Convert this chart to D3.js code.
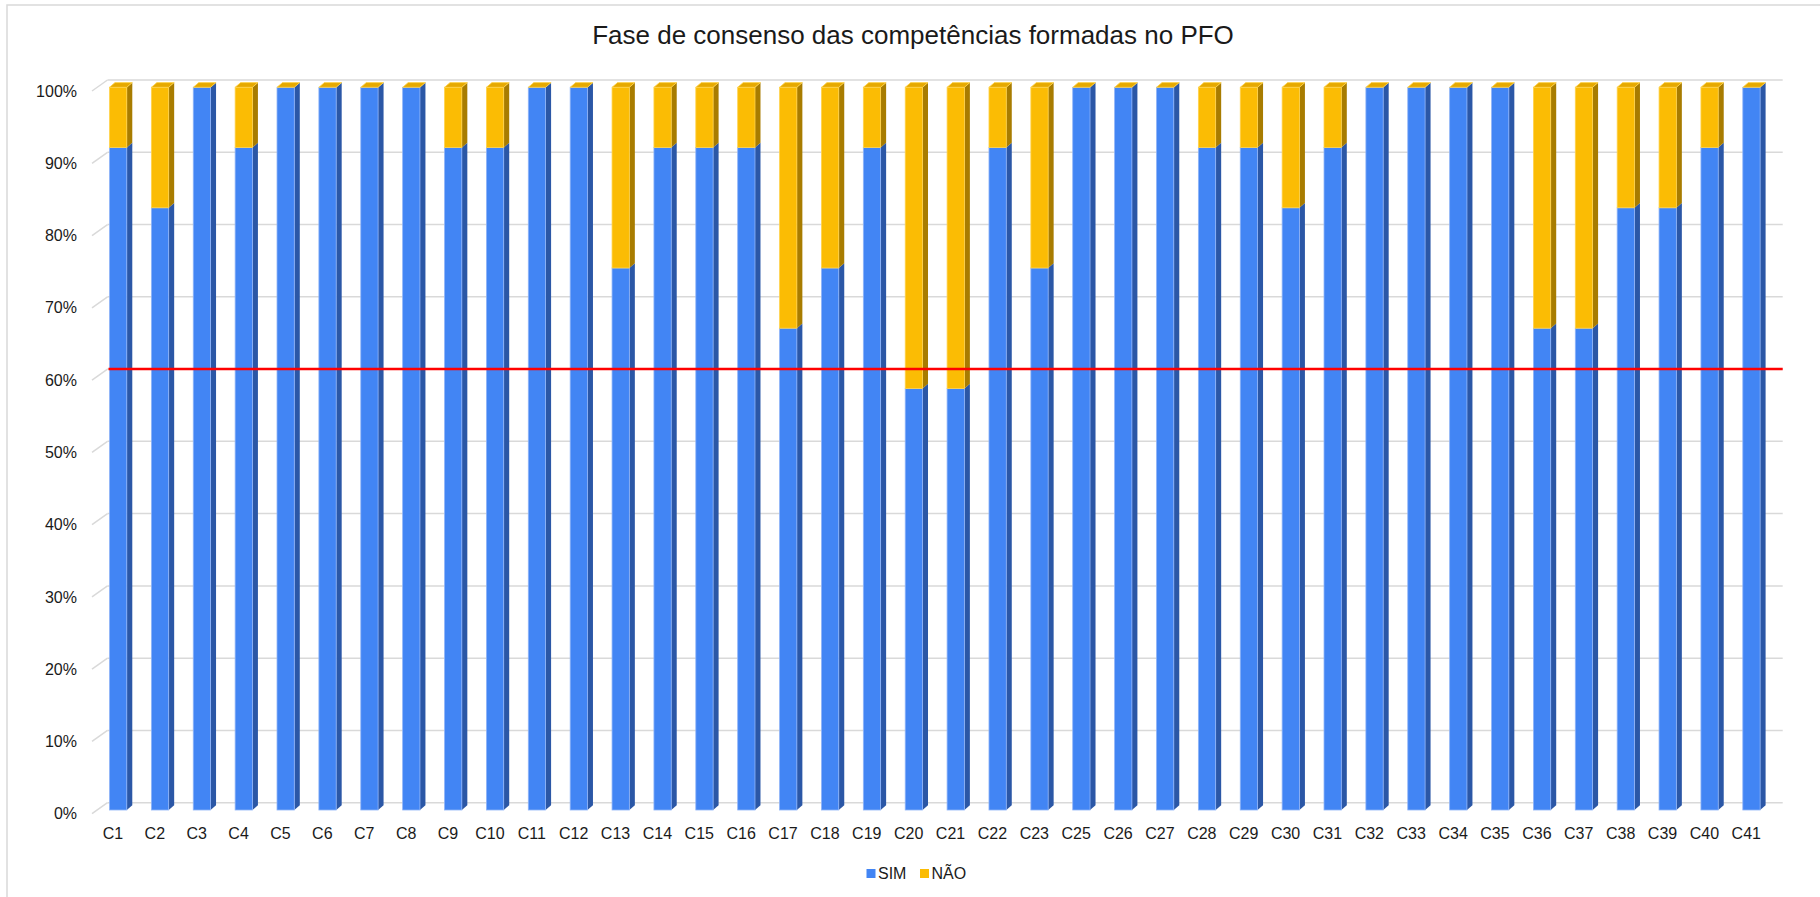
<!DOCTYPE html>
<html>
<head>
<meta charset="utf-8">
<script src="https://cdn.jsdelivr.net/npm/d3@7"></script>
<style>
  body { margin: 0; background: #fff; }
  text { font-family: "Liberation Sans", Arial, sans-serif; fill: #1a1a1a; }
</style>
</head>
<body>
<svg id="chart"></svg>
<script>
var width = 1820,
    height = 897;

// competencias (nao ha C24)
var categories = ["C1","C2","C3","C4","C5","C6","C7","C8","C9","C10",
  "C11","C12","C13","C14","C15","C16","C17","C18","C19","C20",
  "C21","C22","C23","C25","C26","C27","C28","C29","C30","C31",
  "C32","C33","C34","C35","C36","C37","C38","C39","C40","C41"];

var sim = [91.67, 83.33, 100, 91.67, 100, 100, 100, 100, 91.67, 91.67,
  100, 100, 75, 91.67, 91.67, 91.67, 66.67, 75, 91.67, 58.33,
  58.33, 91.67, 75, 100, 100, 100, 91.67, 91.67, 83.33, 91.67,
  100, 100, 100, 100, 66.67, 66.67, 83.33, 83.33, 91.67, 100];

var nao = [8.33, 16.67, 0, 8.33, 0, 0, 0, 0, 8.33, 8.33,
  0, 0, 25, 8.33, 8.33, 8.33, 33.33, 25, 8.33, 41.67,
  41.67, 8.33, 25, 0, 0, 0, 8.33, 8.33, 16.67, 8.33,
  0, 0, 0, 0, 33.33, 33.33, 16.67, 16.67, 8.33, 0];

var yTicks = [0, 10, 20, 30, 40, 50, 60, 70, 80, 90, 100];
var limite = 60;
var seriesNames = ["SIM", "NÃO"];

var colors = {
  "SIM": { front: "#4285f4", side: "#2b57a6", top: "#6a9df6", edge: "#8fb4f8" },
  "NÃO": { front: "#fbbc04", side: "#a87c00", top: "#e6a900", edge: "#ffd34d" }
};

var svg = d3.select("#chart")
    .attr("width", width)
    .attr("height", height);

// moldura do grafico
svg.append("path")
    .attr("d", "M7,900 L7,5 L1825,5")
    .attr("fill", "none")
    .attr("stroke", "#d9d9d9")
    .attr("stroke-width", 1.5);

svg.append("text")
    .attr("x", 913)
    .attr("y", 44)
    .attr("text-anchor", "middle")
    .style("font-size", "26px")
    .text("Fase de consenso das competências formadas no PFO");

// profundidade 3D
var depthX = 15.5, depthY = 11;
var barDX = 5.5, barDY = 4.7;

var backX = d3.scaleBand().domain(categories).range([107.5, 1782.7]).padding(0);
var frontX = d3.scaleBand().domain(categories).range([107.5 - depthX, 1782.7 - depthX]).padding(0);

var yBack = d3.scaleLinear().domain([0, 100]).range([802.7, 80]);
var yFront = d3.scaleLinear().domain([0, 100]).range([810, 87.3]);
var yLabel = d3.scaleLinear().domain([0, 100]).range([802.7 + depthY, 80 + depthY]);

// grelha
var grid = svg.append("g");
grid.selectAll("line.h")
    .data(yTicks)
    .enter().append("line")
    .attr("class", "h")
    .attr("x1", backX.range()[0])
    .attr("x2", backX.range()[1])
    .attr("y1", function(d) { return yBack(d); })
    .attr("y2", function(d) { return yBack(d); })
    .attr("stroke", "#d9d9d9")
    .attr("stroke-width", 1.5);
grid.selectAll("line.d")
    .data(yTicks)
    .enter().append("line")
    .attr("class", "d")
    .attr("x1", backX.range()[0] - depthX)
    .attr("x2", backX.range()[0])
    .attr("y1", function(d) { return yBack(d) + depthY; })
    .attr("y2", function(d) { return yBack(d); })
    .attr("stroke", "#d9d9d9")
    .attr("stroke-width", 1.5);

// eixos
var yAxis = svg.append("g")
    .attr("transform", "translate(" + (backX.range()[0] - depthX) + ",0)")
    .call(d3.axisLeft(yLabel).tickValues(yTicks).tickSize(0).tickPadding(15)
      .tickFormat(function(d) { return d + "%"; }));
yAxis.select(".domain").remove();
yAxis.selectAll("text").style("font-size", "16px").style("font-family", "Liberation Sans, Arial, sans-serif").attr("fill", "#1a1a1a");

var xAxis = svg.append("g")
    .attr("transform", "translate(0," + (yBack(0) + depthY) + ")")
    .call(d3.axisBottom(frontX).tickSize(0).tickPadding(14));
xAxis.select(".domain").remove();
xAxis.selectAll("text").style("font-size", "16px").style("font-family", "Liberation Sans, Arial, sans-serif").attr("fill", "#1a1a1a");

// barras empilhadas
var table = categories.map(function(c, i) {
  return { cat: c, "SIM": sim[i], "NÃO": nao[i] };
});
var stacked = d3.stack().keys(seriesNames)(table);

var bw = backX.bandwidth() * 0.413;
function barLeft(c) {
  return backX(c) + backX.bandwidth() / 2 - 10.3 - bw / 2;
}

var bars = svg.append("g");
stacked.forEach(function(layer) {
  var col = colors[layer.key];
  var g = bars.append("g").attr("class", "serie");
  // face lateral
  g.selectAll("path.side")
    .data(layer)
    .enter().append("path")
    .attr("class", "side")
    .attr("d", function(d) {
      var x = barLeft(d.data.cat) + bw;
      var y0 = yFront(d[0]), y1 = yFront(d[1]);
      return "M" + x + "," + y1 + " L" + (x + barDX) + "," + (y1 - barDY) +
        " L" + (x + barDX) + "," + (y0 - barDY) + " L" + x + "," + y0 + "Z";
    })
    .attr("fill", col.side);
  // face frontal
  g.selectAll("rect")
    .data(layer)
    .enter().append("rect")
    .attr("x", function(d) { return barLeft(d.data.cat); })
    .attr("y", function(d) { return yFront(d[1]); })
    .attr("width", bw)
    .attr("height", function(d) { return yFront(d[0]) - yFront(d[1]); })
    .attr("fill", col.front)
    .attr("stroke", col.edge)
    .attr("stroke-width", 0.8);
});

// tampo (serie do topo)
var topLayer = stacked[stacked.length - 1];
bars.append("g").selectAll("path")
    .data(topLayer)
    .enter().append("path")
    .attr("d", function(d) {
      var x = barLeft(d.data.cat), y = yFront(d[1]);
      return "M" + x + "," + y + " L" + (x + barDX) + "," + (y - barDY) +
        " L" + (x + bw + barDX) + "," + (y - barDY) + " L" + (x + bw) + "," + y + "Z";
    })
    .attr("fill", colors["NÃO"].top)
    .attr("stroke", colors["NÃO"].edge)
    .attr("stroke-width", 0.8);

// linha de referencia 60%
svg.append("line")
    .attr("x1", backX.range()[0] + 1)
    .attr("x2", backX.range()[1])
    .attr("y1", yBack(limite))
    .attr("y2", yBack(limite))
    .attr("stroke", "#ff0000")
    .attr("stroke-width", 2.5);

// legenda
var legend = svg.append("g");
var legX = [866.5, 920];
seriesNames.forEach(function(name, i) {
  legend.append("rect")
    .attr("x", legX[i])
    .attr("y", 869)
    .attr("width", 9)
    .attr("height", 9)
    .attr("fill", colors[name].front);
  legend.append("text")
    .attr("x", legX[i] + 11.5)
    .attr("y", 879)
    .style("font-size", "16px")
    .text(name);
});
</script>
</body>
</html>
